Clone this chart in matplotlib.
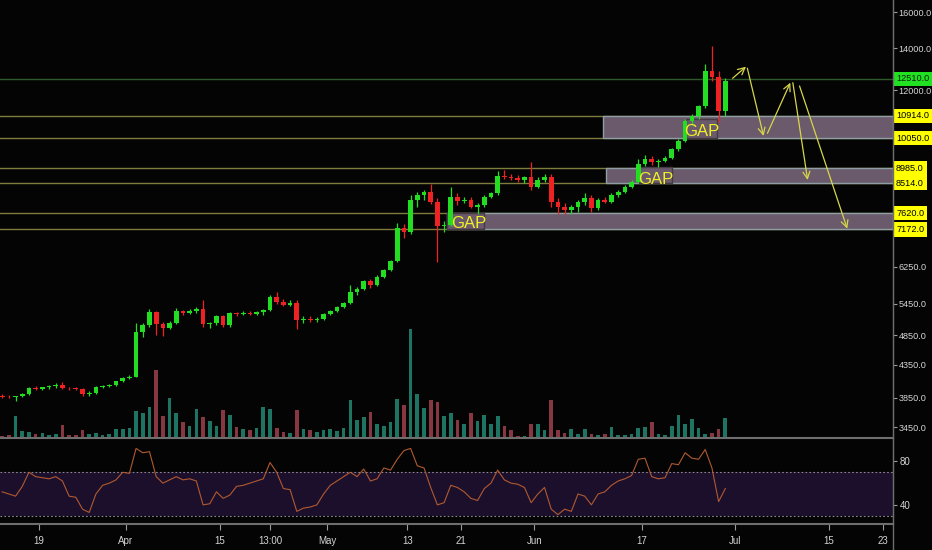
"""BTC daily chart with CME gap zones, volume and RSI (dark TradingView look)."""

import matplotlib
matplotlib.use("Agg")
import matplotlib.pyplot as plt
import matplotlib.dates as mdates
import matplotlib.transforms as mtransforms
from matplotlib import font_manager
from matplotlib.patches import Rectangle
from matplotlib.lines import Line2D
from matplotlib.ticker import FixedLocator, NullLocator, FuncFormatter
import pandas as pd

# ---- data ----
start = "2019-03-13 12:00"
opens = [3875, 3865, 3855, 3870, 3905, 3990, 3975, 4000, 4015, 4040,
         3990, 3985, 3970, 3900, 3925, 4010, 4020, 4035, 4090, 4140,
         4160, 4900, 5040, 5290, 5050, 4990, 5080, 5300, 5260, 5310,
         5340, 5050, 5070, 5200, 5030, 5260, 5240, 5270, 5250, 5290,
         5320, 5580, 5480, 5430, 5470, 5130, 5150, 5140, 5160, 5240,
         5310, 5380, 5460, 5700, 5760, 5920, 5840, 6020, 6170, 6380,
         7200, 7100, 8000, 8150, 8250, 7950, 7250, 7300, 8100, 7980,
         8000, 7800, 7850, 8100, 8200, 8750, 8700, 8680, 8620, 8700,
         8400, 8600, 8700, 7950, 7800, 7700, 7800, 7950, 8050, 7750,
         8000, 7950, 8150, 8250, 8400, 8550, 9150, 9300, 9200, 9250,
         9350, 9650, 9950, 10700, 10900, 11300, 12900, 12600, 11100]
highs = [3900, 3890, 3880, 3920, 4010, 4020, 4010, 4030, 4060, 4075,
         4010, 4000, 3985, 3940, 4020, 4040, 4055, 4100, 4150, 4180,
         5080, 5080, 5340, 5300, 5090, 5120, 5370, 5330, 5340, 5380,
         5520, 5090, 5230, 5230, 5280, 5290, 5300, 5300, 5310, 5340,
         5620, 5690, 5540, 5520, 5530, 5200, 5200, 5190, 5260, 5330,
         5400, 5480, 5840, 5800, 5950, 5980, 6050, 6200, 6400, 7350,
         7320, 8150, 8250, 8300, 8480, 8050, 7400, 8400, 8200, 8100,
         8080, 7900, 8150, 8250, 8900, 8950, 8800, 8780, 8750, 9200,
         8700, 8800, 8800, 8050, 7900, 7850, 8000, 8220, 8150, 8050,
         8080, 8200, 8300, 8450, 8600, 9300, 9450, 9400, 9300, 9400,
         9700, 10000, 10800, 11000, 11350, 13200, 14150, 12900, 12550]
lows = [3850, 3840, 3810, 3855, 3895, 3955, 3960, 3975, 3995, 3980,
        3960, 3955, 3870, 3880, 3910, 3995, 4000, 4020, 4080, 4120,
        4150, 4820, 5000, 4860, 4830, 4960, 5060, 5220, 5240, 5270,
        5000, 4990, 5040, 5000, 5000, 5210, 5220, 5220, 5230, 5230,
        5300, 5440, 5400, 5410, 4960, 5080, 5100, 5090, 5140, 5220,
        5290, 5360, 5440, 5620, 5740, 5780, 5820, 6000, 6150, 6350,
        6940, 7050, 7800, 8000, 7880, 6360, 7100, 7250, 7850, 7900,
        7750, 7600, 7800, 8050, 8150, 8650, 8600, 8550, 8500, 8300,
        8350, 8550, 7800, 7600, 7580, 7600, 7650, 7850, 7650, 7700,
        7900, 7900, 8100, 8200, 8350, 8500, 9050, 9100, 9020, 9200,
        9300, 9600, 9900, 10550, 10800, 11250, 12400, 10650, 10900]
closes = [3865, 3855, 3870, 3905, 3990, 3975, 4000, 4015, 4040, 3990,
          3985, 3970, 3900, 3925, 4010, 4020, 4035, 4090, 4140, 4160,
          4900, 5040, 5290, 5050, 4990, 5080, 5300, 5260, 5310, 5340,
          5050, 5070, 5200, 5030, 5260, 5240, 5270, 5250, 5290, 5320,
          5580, 5480, 5430, 5470, 5130, 5150, 5140, 5160, 5240, 5310,
          5380, 5460, 5700, 5760, 5920, 5840, 6020, 6170, 6380, 7200,
          7100, 8000, 8150, 8250, 7950, 7250, 7300, 8100, 7980, 8000,
          7800, 7850, 8100, 8200, 8750, 8700, 8680, 8620, 8700, 8400,
          8600, 8700, 7950, 7800, 7700, 7800, 7950, 8050, 7750, 8000,
          7950, 8150, 8250, 8400, 8550, 9150, 9300, 9200, 9250, 9350,
          9650, 9950, 10700, 10900, 11300, 12900, 12600, 11100, 12400]
volumes = [2, 3, 22, 7, 6, 4, 5, 3, 4, 13,
           3, 3, 8, 4, 5, 3, 4, 9, 9, 10,
           27, 25, 31, 68, 22, 40, 25, 16, 12, 29,
           21, 17, 12, 28, 23, 11, 9, 8, 10, 31,
           29, 10, 6, 5, 28, 9, 8, 6, 8, 9,
           7, 10, 38, 18, 21, 26, 14, 12, 16, 39,
           33, 109, 44, 30, 38, 36, 22, 25, 18, 14,
           25, 17, 23, 14, 22, 12, 8, 2, 2, 14,
           14, 8, 38, 8, 5, 9, 4, 9, 4, 3,
           4, 11, 3, 3, 4, 10, 11, 16, 4, 3,
           12, 23, 14, 19, 10, 4, 5, 9, 20]
rsi = [52, 50, 48, 57, 70, 66, 65, 64, 66, 62,
       48, 47, 36, 33, 50, 58, 60, 63, 70, 69,
       92, 88, 89, 66, 60, 63, 66, 63, 64, 62,
       40, 41, 52, 46, 49, 57, 58, 60, 62, 64,
       79, 70, 55, 54, 34, 37, 38, 40, 50, 58,
       62, 66, 70, 66, 73, 62, 64, 74, 72, 82,
       90, 92, 76, 74, 56, 40, 42, 58, 56, 52,
       46, 44, 55, 60, 72, 63, 60, 59, 56, 42,
       50, 56, 36, 31, 36, 34, 50, 48, 40, 50,
       52, 58, 62, 64, 67, 82, 83, 66, 64, 65,
       78, 77, 88, 83, 82, 91, 74, 43, 55]

# horizontal levels and the gap zones
levels = [12510, 10914, 10050, 8985, 8514, 7620, 7172]
zone_starts = ["2019-06-11 04:00", "2019-06-11 16:00", "2019-05-18 22:00"]
zone_lows = [10050, 8514, 7172]
zone_highs = [10914, 8985, 7620]

gap_x0 = ["2019-05-18 22:00", "2019-06-16 14:00", "2019-06-23 15:00"]
gap_x1 = ["2019-05-24 11:00", "2019-06-21 13:00", "2019-06-28 06:00"]
gap_lo = [7172, 8515, 10053]
gap_hi = [7620, 9032, 10786]
gap_tx = ["2019-05-22 05:00", "2019-06-19 02:00", "2019-06-25 22:00"]
gap_ty = [7340, 8620, 10318]

# projected path arrows (start date, start price, end date, end price)
arrow_t0 = ["2019-06-30 14:00", "2019-07-02 19:00", "2019-07-05 19:00",
            "2019-07-09 14:00", "2019-07-10 14:00"]
arrow_p0 = [12537, 13010, 10232, 12335, 12186]
arrow_t1 = ["2019-07-02 14:00", "2019-07-05 05:00", "2019-07-09 05:00",
            "2019-07-11 19:00", "2019-07-17 17:00"]
arrow_p1 = [13086, 10130, 12335, 8610, 7192]

price_ticks = [3450, 3850, 4350, 4850, 5450, 6250, 12000, 14000, 16000]
yellow_labels = [10914, 10050, 8985, 8514, 7620, 7172]
last_price = 12510

time_ticks = ["2019-03-19 00:00", "2019-04-01 00:00", "2019-04-15 00:00",
              "2019-04-22 13:00", "2019-05-01 00:00", "2019-05-13 00:00",
              "2019-05-21 00:00", "2019-06-01 00:00", "2019-06-17 00:00",
              "2019-07-01 00:00", "2019-07-15 00:00", "2019-07-23 00:00"]
time_labels = ["19", "Apr", "15", "13:00", "May", "13", "21", "Jun",
               "17", "Jul", "15", "23"]

# ---- style ----
BG = "#040404"
UP, DOWN = "#22dd22", "#ee2222"
VOL_UP, VOL_DOWN = "#1e7463", "#873741"
LEVEL = "#7f7d3e"
LAST_LINE = "#2e5a2a"
ZONE_FC, ZONE_EC = "#6b5a6b", "#8fa0a4"
GAP_EC = "#463a44"
ARROW = "#d6d64a"
AXIS = "#6e6e6e"
TXT = "#d4d4d4"
LBL = 6.6

names = {f.name for f in font_manager.fontManager.ttflist}
FONT = "Liberation Sans Narrow" if "Liberation Sans Narrow" in names else "Liberation Sans"
plt.rcParams["font.family"] = [FONT, "DejaVu Sans"]


def num(s):
    return mdates.date2num(pd.Timestamp(s))


W, H = 932, 550
fig = plt.figure(figsize=(W / 100, H / 100), dpi=100, facecolor=BG)
ax = fig.add_axes([0, (H - 437.5) / H, 893 / W, 437.5 / H])
ax2 = fig.add_axes([0, (H - 524) / H, 893 / W, 86 / H])

dates = pd.date_range(start, periods=len(closes), freq="D")
x = mdates.date2num(dates)
xmin = num("2019-03-13 04:14")
xmax = num("2019-07-24 13:00")
colors = [UP if c >= o else DOWN for o, c in zip(opens, closes)]
vcolors = [VOL_UP if c >= o else VOL_DOWN for o, c in zip(opens, closes)]

# volume on a twin axis underneath
axv = ax.twinx()
axv.set_facecolor(BG)
axv.bar(x, volumes, width=0.55, color=vcolors, linewidth=0)
axv.set_ylim(0, 437.5)
axv.set_yticks([])
for s in axv.spines.values():
    s.set_visible(False)
ax.set_zorder(axv.get_zorder() + 1)
ax.patch.set_visible(False)

ax.set_yscale("log")
ax.set_ylim(3324, 16745)
ax.set_xlim(xmin, xmax)

for lv in levels:
    ax.axhline(lv, color=LAST_LINE if lv == last_price else LEVEL, lw=1, zorder=1.5)

for t, lo, hi in zip(zone_starts, zone_lows, zone_highs):
    t0 = num(t)
    ax.add_patch(Rectangle((t0, lo), xmax - t0, hi - lo, facecolor=ZONE_FC,
                           edgecolor=ZONE_EC, lw=1, zorder=2))

for a, b, lo, hi in zip(gap_x0, gap_x1, gap_lo, gap_hi):
    t0, t1 = num(a), num(b)
    ax.add_patch(Rectangle((t0, lo), t1 - t0, hi - lo, facecolor=ZONE_FC,
                           edgecolor=GAP_EC, lw=1, zorder=2.2))

# candles
bottoms = [min(o, c) for o, c in zip(opens, closes)]
bodies = [abs(c - o) for o, c in zip(opens, closes)]
ax.vlines(x, lows, highs, colors=colors, lw=0.9, zorder=3)
ax.bar(x, bodies, bottom=bottoms, width=0.7, color=colors, linewidth=0, zorder=3)

for tx, ty in zip(gap_tx, gap_ty):
    ax.text(num(tx), ty, "GAP", color="#f0f028",
            fontsize=12, ha="center", va="center", zorder=4)

for t0, p0, t1, p1 in zip(arrow_t0, arrow_p0, arrow_t1, arrow_p1):
    ax.annotate("", xy=(num(t1), p1), xytext=(num(t0), p0),
                arrowprops=dict(arrowstyle="->,head_length=0.5,head_width=0.25",
                                color=ARROW, lw=0.9, shrinkA=0, shrinkB=0),
                zorder=4)

# right price scale
ax.yaxis.tick_right()
ax.yaxis.set_major_locator(FixedLocator(price_ticks))
ax.yaxis.set_minor_locator(NullLocator())
ax.yaxis.set_major_formatter(FuncFormatter(lambda v, p: f"{v:.1f}"))
ax.tick_params(axis="y", direction="out", length=3, color="#9a9a9a",
               labelcolor=TXT, labelsize=LBL, pad=1)
ax.tick_params(axis="x", bottom=False, labelbottom=False)
for side in ("top", "left"):
    ax.spines[side].set_visible(False)
ax.spines["bottom"].set_color(AXIS)
ax.spines["bottom"].set_linewidth(1.5)
ax.spines["right"].set_color(AXIS)

blend = mtransforms.blended_transform_factory(ax.transAxes, ax.transData)
for p in yellow_labels:
    ax.text(1.0034, p, f"{p:.1f}", transform=blend, fontsize=LBL, color="black",
            ha="left", va="center", clip_on=False, zorder=6,
            bbox=dict(boxstyle="square,pad=0.3", fc="#ffff00", ec="none"))
ax.text(1.0034, last_price, f"{last_price:.1f}", transform=blend, fontsize=LBL,
        color="#0b220b", ha="left", va="center", clip_on=False, zorder=6,
        bbox=dict(boxstyle="square,pad=0.3", fc="#22e022", ec="none"))

# RSI pane
ax2.set_facecolor(BG)
ax2.set_xlim(xmin, xmax)
ax2.set_ylim(22.35, 101.6)
ax2.axhspan(30, 70, color="#1c0f2c", lw=0)
for lv in (30, 70):
    ax2.axhline(lv, color="#8a8a8a", lw=0.8, ls=(0, (1.5, 2)))
ax2.plot(x, rsi, color="#b05a30", lw=0.8)
ax2.yaxis.tick_right()
ax2.set_yticks([40, 80])
ax2.set_yticklabels(["40", "80"])
ax2.set_xticks([num(t) for t in time_ticks])
ax2.set_xticklabels(time_labels)
ax2.tick_params(axis="y", direction="out", length=3, color="#9a9a9a",
                labelcolor=TXT, labelsize=LBL + 0.4, pad=2)
ax2.tick_params(axis="x", direction="out", length=4, color="#9a9a9a",
                labelcolor=TXT, labelsize=LBL + 0.4, pad=5)
for side in ("top", "left"):
    ax2.spines[side].set_visible(False)
ax2.spines["bottom"].set_color(AXIS)
ax2.spines["bottom"].set_linewidth(1.5)
ax2.spines["right"].set_color(AXIS)

fig.add_artist(Line2D([893 / W, 893 / W], [0, 1], color=AXIS, lw=1,
                      transform=fig.transFigure))

fig.savefig("out.png", dpi=100, facecolor=BG)
plt.close(fig)
